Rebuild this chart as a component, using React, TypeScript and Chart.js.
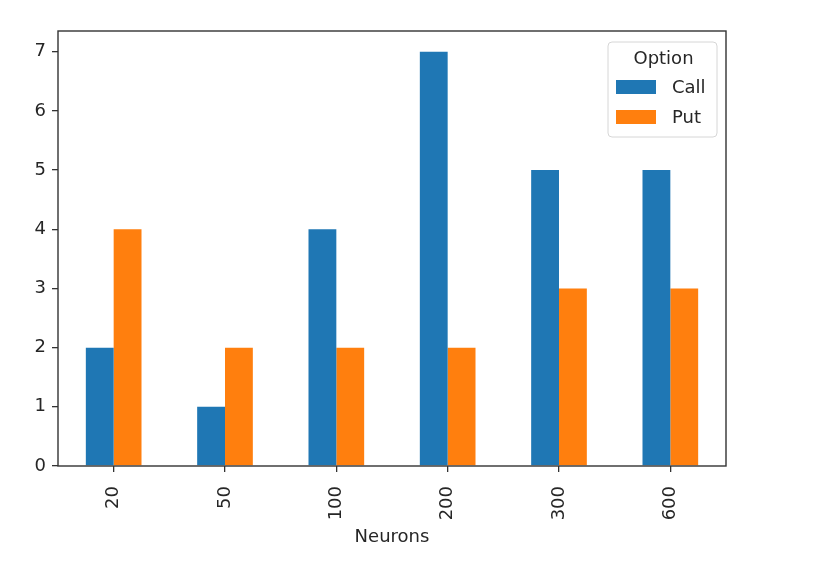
import React, { useEffect, useRef } from "react";
import { Chart, registerables } from "chart.js";

Chart.register(...registerables);

const categories = ["20", "50", "100", "200", "300", "600"];
const callValues = [2, 1, 4, 7, 5, 5];
const putValues = [4, 2, 2, 2, 3, 3];
const yTicks = [0, 1, 2, 3, 4, 5, 6, 7];
const seriesNames = ["Call", "Put"];
const colors = ["#1f77b4", "#ff7f0e"];
const legendTitle = "Option";
const xTitle = "Neurons";

const FONT = "'DejaVu Sans', sans-serif";
const FS = 18;
const TEXT = "#262626";

const framePlugin = {
  id: "frameAndLegend",
  afterDatasetsDraw(chart: any) {
    const { ctx, chartArea } = chart;
    ctx.save();
    ctx.strokeStyle = "#333";
    ctx.lineWidth = 1.4;
    ctx.strokeRect(chartArea.left, chartArea.top, chartArea.right - chartArea.left, chartArea.bottom - chartArea.top);
    ctx.restore();
  },
  afterDraw(chart: any) {
    const { ctx, chartArea } = chart;
    const w = 109;
    const h = 95;
    const x = chartArea.right - 9 - w;
    const y = chartArea.top + 11;
    ctx.save();
    ctx.beginPath();
    const r = 4;
    ctx.moveTo(x + r, y);
    ctx.arcTo(x + w, y, x + w, y + h, r);
    ctx.arcTo(x + w, y + h, x, y + h, r);
    ctx.arcTo(x, y + h, x, y, r);
    ctx.arcTo(x, y, x + w, y, r);
    ctx.closePath();
    ctx.fillStyle = "rgba(255,255,255,0.8)";
    ctx.fill();
    ctx.strokeStyle = "#d6d6d6";
    ctx.lineWidth = 1;
    ctx.stroke();
    ctx.fillStyle = TEXT;
    ctx.font = `${FS}px ${FONT}`;
    ctx.textAlign = "center";
    ctx.textBaseline = "middle";
    ctx.fillText(legendTitle, x + w / 2 + 1, y + 17);
    ctx.textAlign = "left";
    seriesNames.forEach((name, i) => {
      const cy = y + 45 + i * 30;
      ctx.fillStyle = colors[i];
      ctx.fillRect(x + 8, cy - 7, 40, 14);
      ctx.fillStyle = TEXT;
      ctx.fillText(name, x + 64, cy + 1);
    });
    ctx.restore();
  },
};

export default function App() {
  const ref = useRef<HTMLCanvasElement>(null);
  useEffect(() => {
    if (!ref.current) return;
    const chart = new Chart(ref.current, {
      type: "bar",
      data: {
        labels: categories,
        datasets: [
          { label: seriesNames[0], data: callValues, backgroundColor: colors[0], categoryPercentage: 0.5, barPercentage: 1.0 },
          { label: seriesNames[1], data: putValues, backgroundColor: colors[1], categoryPercentage: 0.5, barPercentage: 1.0 },
        ],
      },
      options: {
        responsive: false,
        animation: false,
        devicePixelRatio: 1,
        layout: { padding: { left: 0, top: 31, right: 100, bottom: 0 } },
        plugins: { legend: { display: false }, tooltip: { enabled: false } },
        scales: {
          x: {
            afterFit: (s: any) => { s.height = 104; },
            border: { display: false },
            grid: { offset: false, drawOnChartArea: false, drawTicks: true, tickLength: 6, color: "#333", lineWidth: 1.3 },
            ticks: { autoSkip: false, minRotation: 90, maxRotation: 90, padding: 14, color: TEXT, font: { family: FONT, size: FS } },
            title: { display: true, text: xTitle, color: TEXT, font: { family: FONT, size: FS }, padding: { top: 0, bottom: 22 } },
          },
          y: {
            min: 0,
            max: 7.35,
            afterFit: (s: any) => { s.width = 58; },
            afterBuildTicks: (s: any) => { s.ticks = yTicks.map((v) => ({ value: v })); },
            border: { display: false },
            grid: { drawOnChartArea: false, drawTicks: true, tickLength: 6, color: "#333", lineWidth: 1.3 },
            ticks: { padding: 6, color: TEXT, font: { family: FONT, size: FS } },
          },
        },
      },
      plugins: [framePlugin],
    });
    return () => chart.destroy();
  }, []);
  return (
    <div style={{ position: "absolute", left: 0, top: 0, width: 826, height: 570, background: "#fff" }}>
      <canvas ref={ref} width={826} height={570} style={{ width: 826, height: 570 }} />
    </div>
  );
}
